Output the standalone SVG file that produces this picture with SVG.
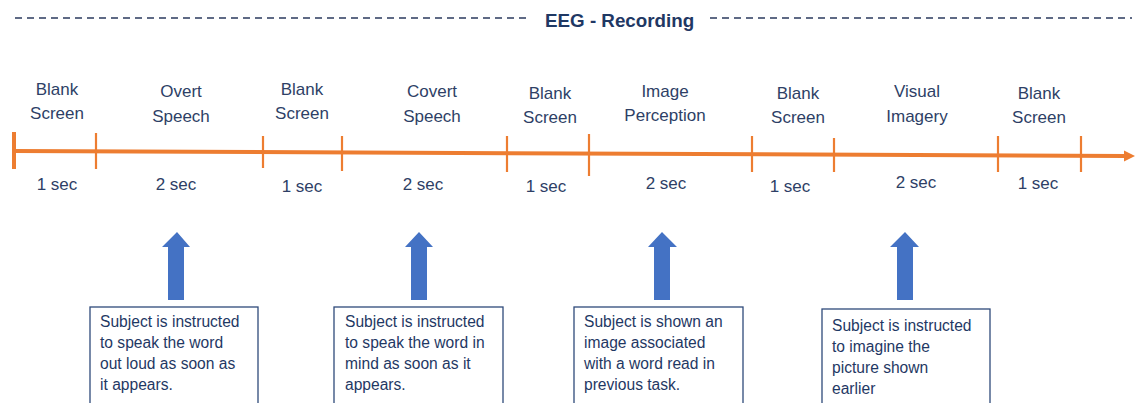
<svg xmlns="http://www.w3.org/2000/svg" width="1135" height="403" viewBox="0 0 1135 403">
  <defs>
    <style>
      .title { font-family: "Liberation Sans", Arial, sans-serif; font-weight: bold; font-size: 18.8px; fill: #1F3864; }
      .dash { stroke: #2B3A5E; stroke-width: 1.4; stroke-dasharray: 7 5; fill: none; }
      .lbl { font-family: "Liberation Sans", Arial, sans-serif; font-size: 17px; fill: #2E3F66; text-anchor: middle; }
      .dur { font-family: "Liberation Sans", Arial, sans-serif; font-size: 17px; fill: #2E3F66; text-anchor: middle; }
      .axis { stroke: #ED7D31; stroke-width: 4; fill: none; }
      .tick { stroke: #ED7D31; stroke-width: 2.2; }
      .up { fill: #4472C4; }
      .box { fill: #FFFFFF; stroke: #2F4A7A; stroke-width: 1.3; }
      .btxt { font-family: "Liberation Sans", Arial, sans-serif; font-size: 15.6px; fill: #1F3864; }
    </style>
  </defs>

  <!-- header -->
  <g id="header">
    <line class="dash" x1="15" y1="18" x2="528" y2="18"/>
    <text class="title" x="545" y="27">EEG - Recording</text>
    <line class="dash" x1="710" y1="18" x2="1132" y2="18"/>
  </g>

  <!-- timeline axis with ticks -->
  <g id="connectors">
    <line class="axis" x1="14" y1="151" x2="1126" y2="156"/>
    <polygon points="1124,150.5 1135,156 1124,161.5" fill="#ED7D31"/>
    <line x1="14" y1="132" x2="14" y2="169" stroke="#ED7D31" stroke-width="4"/>
    <line class="tick" x1="96" y1="133" x2="96" y2="169"/>
    <line class="tick" x1="263" y1="136" x2="263" y2="168"/>
    <line class="tick" x1="342" y1="136" x2="342" y2="171"/>
    <line class="tick" x1="507" y1="136" x2="507" y2="172"/>
    <line class="tick" x1="589" y1="134" x2="589" y2="176"/>
    <line class="tick" x1="752" y1="136" x2="752" y2="172"/>
    <line class="tick" x1="834" y1="138" x2="834" y2="172"/>
    <line class="tick" x1="998" y1="136" x2="998" y2="172"/>
    <line class="tick" x1="1081" y1="136" x2="1081" y2="172"/>

    <!-- pointer arrows -->
    <polygon class="up" points="177,232 190,247 184,247 184,300 168,300 168,247 162,247"/>
    <polygon class="up" points="419,232 433,247 427,247 427,300 411,300 411,247 405,247"/>
    <polygon class="up" points="662,232 677,247 670,247 670,300 654,300 654,247 648,247"/>
    <polygon class="up" points="905,232 919,247 913,247 913,300 897,300 897,247 890,247"/>
  </g>

  <!-- phase labels -->
  <g id="phase-blank-1">
    <text class="lbl" x="57" y="95">Blank</text>
    <text class="lbl" x="57" y="119">Screen</text>
    <text class="dur" x="57" y="190">1 sec</text>
  </g>
  <g id="phase-overt">
    <text class="lbl" x="181" y="97">Overt</text>
    <text class="lbl" x="181" y="122">Speech</text>
    <text class="dur" x="176" y="190">2 sec</text>
  </g>
  <g id="phase-blank-2">
    <text class="lbl" x="302" y="95">Blank</text>
    <text class="lbl" x="302" y="119">Screen</text>
    <text class="dur" x="302" y="192">1 sec</text>
  </g>
  <g id="phase-covert">
    <text class="lbl" x="432" y="97">Covert</text>
    <text class="lbl" x="432" y="122">Speech</text>
    <text class="dur" x="423" y="190">2 sec</text>
  </g>
  <g id="phase-blank-3">
    <text class="lbl" x="550" y="99">Blank</text>
    <text class="lbl" x="550" y="123">Screen</text>
    <text class="dur" x="546" y="192">1 sec</text>
  </g>
  <g id="phase-perception">
    <text class="lbl" x="665" y="97">Image</text>
    <text class="lbl" x="665" y="121">Perception</text>
    <text class="dur" x="666" y="189">2 sec</text>
  </g>
  <g id="phase-blank-4">
    <text class="lbl" x="798" y="99">Blank</text>
    <text class="lbl" x="798" y="123">Screen</text>
    <text class="dur" x="790" y="192">1 sec</text>
  </g>
  <g id="phase-imagery">
    <text class="lbl" x="917" y="97">Visual</text>
    <text class="lbl" x="917" y="122">Imagery</text>
    <text class="dur" x="916" y="188">2 sec</text>
  </g>
  <g id="phase-blank-5">
    <text class="lbl" x="1039" y="99">Blank</text>
    <text class="lbl" x="1039" y="123">Screen</text>
    <text class="dur" x="1038" y="189">1 sec</text>
  </g>

  <!-- instruction boxes -->
  <g id="note-overt">
    <rect class="box" x="90" y="307" width="168" height="100"/>
    <text class="btxt" x="100" y="327">Subject is instructed</text>
    <text class="btxt" x="100" y="348">to speak the word</text>
    <text class="btxt" x="100" y="369">out loud as soon as</text>
    <text class="btxt" x="100" y="390">it appears.</text>
  </g>
  <g id="note-covert">
    <rect class="box" x="334" y="307" width="169" height="100"/>
    <text class="btxt" x="345" y="327">Subject is instructed</text>
    <text class="btxt" x="345" y="348">to speak the word in</text>
    <text class="btxt" x="345" y="369">mind as soon as it</text>
    <text class="btxt" x="345" y="390">appears.</text>
  </g>
  <g id="note-perception">
    <rect class="box" x="574" y="307" width="169" height="100"/>
    <text class="btxt" x="584" y="327">Subject is shown an</text>
    <text class="btxt" x="584" y="348">image associated</text>
    <text class="btxt" x="584" y="369">with a word read in</text>
    <text class="btxt" x="584" y="390">previous task.</text>
  </g>
  <g id="note-imagery">
    <rect class="box" x="822" y="309" width="168" height="100"/>
    <text class="btxt" x="832" y="331">Subject is instructed</text>
    <text class="btxt" x="832" y="352">to imagine the</text>
    <text class="btxt" x="832" y="373">picture shown</text>
    <text class="btxt" x="832" y="394">earlier</text>
  </g>
</svg>
